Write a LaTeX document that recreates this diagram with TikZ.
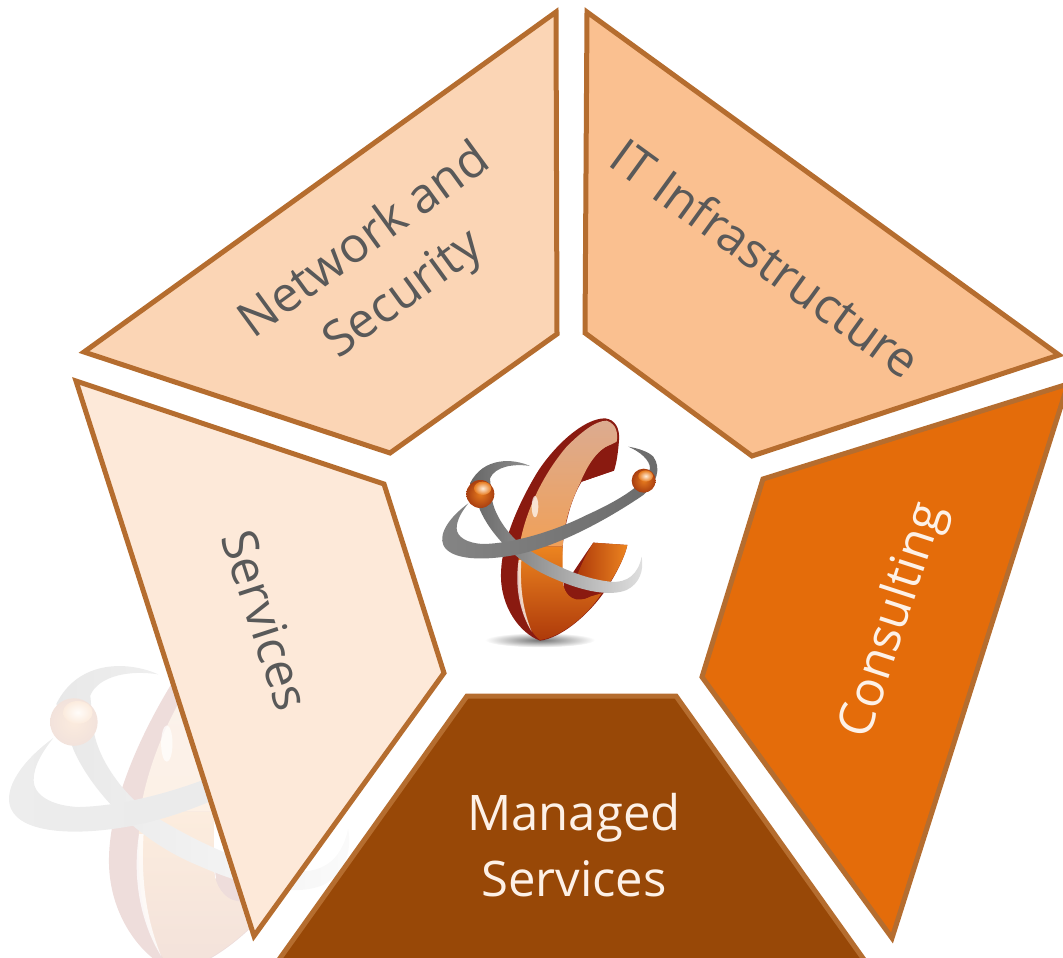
\documentclass[tikz,border=0pt]{standalone}
\usepackage{fontspec}
\setmainfont{Open Sans}
\definecolor{edgebrown}{HTML}{B56D2F}
\definecolor{textgrey}{HTML}{595959}
\definecolor{softtext}{HTML}{FDF1E7}
\definecolor{darkred}{HTML}{8A1A10}
\definecolor{bandred}{HTML}{CC5418}
\definecolor{facetop}{HTML}{DCAB90}
\definecolor{facemid}{HTML}{F6BE8A}
\definecolor{facelow}{HTML}{F0A058}
\definecolor{lowtop}{HTML}{EC8420}
\definecolor{lowend}{HTML}{AE3A0A}
\definecolor{ballmid}{HTML}{E67A1E}
\definecolor{ballrim}{HTML}{A83E10}
\tikzset{
  panel/.style={draw=edgebrown, line width=5pt, line join=miter},
  paneltext/.style={font=\fontsize{49}{66}\selectfont, align=center, text=textgrey, inner sep=0pt},
}
% the atom mark, in the pixels of a 780 wide square
\newcommand{\logomark}{%
  \shade[inner color=black!55, outer color=white] (360,720) ellipse (165 and 22);
  % body of the letter
  \shade[top color=darkred, middle color=bandred, bottom color=darkred]
    (555,55) .. controls (585,58) and (600,85) .. (597,120) .. controls (595,150) and (590,190) .. (582,212)
    -- (485,245) .. controls (450,300) and (425,400) .. (425,500) -- (430,560)
    .. controls (465,510) and (490,470) .. (520,428) -- (622,435) .. controls (615,470) and (585,530) .. (550,580)
    .. controls (500,650) and (420,715) .. (360,722) .. controls (300,700) and (240,620) .. (243,520)
    .. controls (245,430) and (290,320) .. (350,220) .. controls (400,140) and (490,55) .. (555,55) -- cycle;
  % faces
  \shade[top color=facetop, middle color=facemid, bottom color=facelow]
    (560,62) .. controls (590,72) and (594,100) .. (590,125) -- (570,135) .. controls (530,150) and (500,200) .. (480,250)
    .. controls (450,310) and (430,380) .. (428,440) -- (298,440) .. controls (318,320) and (380,210) .. (440,140)
    .. controls (480,100) and (525,62) .. (560,62) -- cycle;
  \fill[darkred] (572,135) .. controls (585,160) and (585,190) .. (580,212) -- (485,245)
    .. controls (505,200) and (530,150) .. (572,135) -- cycle;
  \shade[top color=lowtop, bottom color=lowend]
    (298,440) -- (428,440) -- (428,540) .. controls (430,590) and (470,610) .. (510,590) -- (545,580)
    .. controls (500,650) and (420,712) .. (360,720) .. controls (320,690) and (285,610) .. (298,440) -- cycle;
  \fill[white, opacity=0.75] (296,480) .. controls (285,550) and (295,630) .. (335,695)
    .. controls (305,620) and (300,550) .. (304,480) -- cycle;
  \shade[left color=lowend, right color=lowtop]
    (520,428) -- (622,435) .. controls (615,470) and (585,530) .. (550,575)
    -- (470,530) .. controls (485,490) and (500,460) .. (520,428) -- cycle;
  \fill[darkred] (430,545) .. controls (450,520) and (460,515) .. (470,530) -- (510,590)
    .. controls (470,610) and (435,595) .. (430,545) -- cycle;
  \fill[white, opacity=0.7] (345,320) ellipse (10 and 32);
  % rings
  \shade[left color=black!60, middle color=black!35, right color=black!12]
    (330,198) .. controls (280,175) and (190,170) .. (150,250) -- (180,330)
    .. controls (210,400) and (290,490) .. (400,535) .. controls (490,575) and (570,590) .. (620,570)
    .. controls (660,550) and (672,510) .. (665,470) .. controls (655,520) and (625,550) .. (570,545)
    .. controls (480,535) and (390,490) .. (310,440) .. controls (260,400) and (220,340) .. (215,290)
    -- (210,235) .. controls (225,200) and (280,190) .. (330,198) -- cycle;
  \shade[left color=black!48, middle color=black!8, right color=black!58]
    (145,310) .. controls (90,350) and (55,400) .. (70,435) .. controls (90,480) and (190,485) .. (300,462)
    .. controls (420,435) and (560,360) .. (670,285) .. controls (710,250) and (725,205) .. (700,170)
    .. controls (685,155) and (655,145) .. (625,140) .. controls (660,155) and (690,180) .. (690,205)
    .. controls (680,250) and (600,300) .. (500,345) .. controls (400,395) and (280,430) .. (190,432)
    .. controls (140,430) and (110,410) .. (110,385) .. controls (110,360) and (125,335) .. (145,310) -- cycle;
  % balls
  \shade[inner color=ballmid, outer color=ballrim] (181,282) circle (42);
  \shade[inner color=white!85!orange, outer color=ballmid] (188,265) ellipse (26 and 20);
  \shade[inner color=ballmid, outer color=ballrim] (671,242) circle (36);
  \shade[inner color=white!85!orange, outer color=ballmid] (677,228) ellipse (22 and 17);
}
\begin{document}
\begin{tikzpicture}[x=1pt, y=-1pt]
  \useasboundingbox (0,0) rectangle (1063,958);
  \clip (0,0) rectangle (1063,958);
  % faded mark behind the panels
  \begin{scope}[shift={(-28.7,562.2)}, scale=0.5667, transparency group, opacity=0.15]
    \logomark
  \end{scope}
  \draw[panel, fill={rgb,255:red,251;green,213;blue,181}] (556,12) -- (557,334) -- (390,453) -- (84,352) -- cycle;
  \draw[panel, fill={rgb,255:red,250;green,192;blue,144}] (587,12) -- (1059,355) -- (752,456) -- (585,333) -- cycle;
  \draw[panel, fill={rgb,255:red,228;green,108;blue,10}] (1068,384) -- (763,479) -- (702,677) -- (892,938) -- cycle;
  \draw[panel, fill={rgb,255:red,152;green,72;blue,7}] (467,696) -- (676,696) -- (870,968) -- (273,968) -- cycle;
  \draw[panel, fill={rgb,255:red,253;green,233;blue,217}] (76,381) -- (384,484) -- (444,673) -- (254,936) -- cycle;
  \begin{scope}[shift={(420,400)}, scale=1/3]
    \logomark
  \end{scope}
  \node[paneltext, rotate=36] (network) at (385,269) {Network and\\Security};
  \node[paneltext, rotate=-36] (infra) at (766,258) {IT Infrastructure};
  \node[paneltext, rotate=72, text=softtext] (consult) at (894,621) {Consulting};
  \node[paneltext, rotate=-72] (svc) at (266,620) {Services};
  \node[paneltext, text=softtext] (managed) at (574,845) {Managed\\Services};
\end{tikzpicture}
\end{document}
